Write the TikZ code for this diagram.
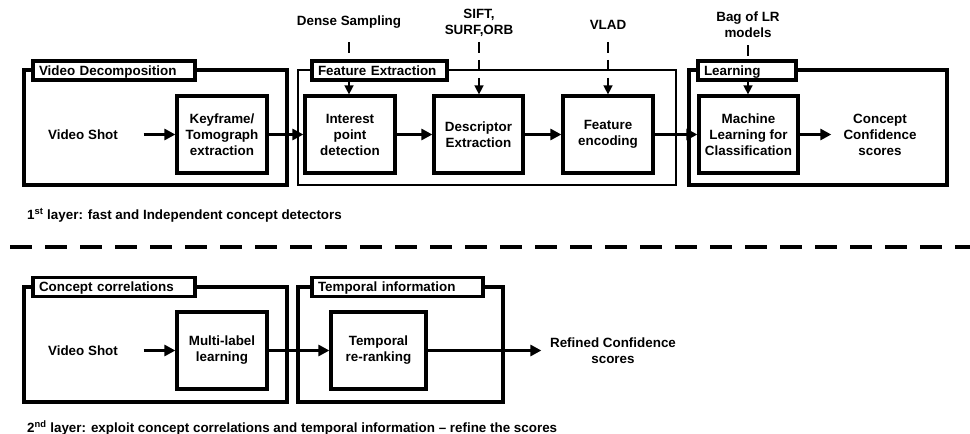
\documentclass[tikz,border=0pt]{standalone}
\usepackage{fontspec}
\setmainfont{Liberation Sans}
\usetikzlibrary{arrows.meta}
\pgfdeclarelayer{back}
\pgfsetlayers{back,main}
\begin{document}
\begin{tikzpicture}[x=1pt,y=-1pt,
  font=\fontsize{13.4}{16}\selectfont\bfseries,
  frame/.style={draw, line width=3.2pt, inner sep=0pt},
  thinframe/.style={draw, line width=1.2pt, inner sep=0pt},
  ttl/.style={draw, line width=3.2pt, fill=white, inner xsep=6pt, inner ysep=0pt,
              minimum height=19pt, align=left, text height=9.7pt, text depth=0pt},
  blk/.style={draw, line width=3.2pt, fill=white, align=center,
              minimum height=77pt, inner sep=2pt},
  lbl/.style={align=center, inner sep=0pt},
  flow/.style={line width=3.3pt, -{Triangle[length=11pt,width=11pt]}},
  hint/.style={line width=1.4pt, dash pattern=on 11pt off 7pt,
               -{Triangle[length=9pt,width=9pt]}},
  divider/.style={line width=4pt, dash pattern=on 22pt off 13pt}]
\useasboundingbox (0,0) rectangle (970,434);

% ---------- first layer ----------
\node[frame, minimum width=263pt, minimum height=115pt] (vd) at (155.5,127.5) {};
\node[thinframe, minimum width=378pt, minimum height=115pt] (fe) at (487,127.5) {};
\node[frame, minimum width=258pt, minimum height=115pt] (ln) at (818,127.5) {};

\node[ttl, text width=150pt] (vdt) at (114,70.5) {Video Decomposition};
\node[ttl, text width=123pt] (fet) at (379.5,70.5) {Feature Extraction};
\node[ttl, text width=86pt] (lnt) at (747,70.5) {Learning};

\node[lbl] (vs1) at (83,134.5) {Video Shot};
\node[blk, minimum width=90pt] (kf) at (222,134.5) {Keyframe/\\Tomograph\\extraction};
\node[blk, minimum width=90pt] (ipd) at (350,134.5) {Interest\\point\\detection};
\node[blk, minimum width=89pt] (de) at (478.5,134.5) {Descriptor\\Extraction};
\node[blk, minimum width=90pt] (enc) at (608,134.5) {Feature\\encoding};
\node[blk, minimum width=99pt] (ml) at (748.5,134.5) {Machine\\Learning for\\Classification};
\node[lbl] (ccs) at (880,134.5) {Concept\\Confidence\\scores};

% method annotations above the pipeline
\node[lbl] (ds) at (349,22.3) {Dense Sampling};
\node[lbl] (sift) at (479,22.4) {SIFT,\\SURF,ORB};
\node[lbl] (vlad) at (608,25) {VLAD};
\node[lbl] (bag) at (748,25) {Bag of LR\\models};

\begin{pgfonlayer}{back}
  \draw[hint, shorten <=13.5pt] (ds.south) -- (ds.south |- ipd.north);
  \draw[hint, shorten <=5.5pt] (sift.south) -- (sift.south |- de.north);
  \draw[hint, shorten <=12pt] (vlad.south) -- (vlad.south |- enc.north);
  \draw[hint, shorten <=7pt] (bag.south) -- (bag.south |- ml.north);
\end{pgfonlayer}

\draw[flow, shorten <=25.5pt] (vs1) -- (kf);
\draw[flow] (kf) -- (ipd);
\draw[flow] (ipd) -- (de);
\draw[flow] (de) -- (enc);
\draw[flow] (enc) -- (ml);
\draw[flow, shorten >=12pt] (ml) -- (ccs);

\node[anchor=west, inner sep=0pt] (l1) at (27,215)
  {1\textsuperscript{st} layer: fast and Independent concept detectors};

% ---------- separator ----------
\coordinate (d0) at (10,247);
\coordinate (d1) at (970,247);
\draw[divider] (d0) -- (d1);

% ---------- second layer ----------
\node[frame, minimum width=263pt, minimum height=115pt] (cc) at (155.5,344.5) {};
\node[frame, minimum width=205pt, minimum height=115pt] (ti) at (400.5,344.5) {};
\node[ttl, text width=150pt] (cct) at (114,287) {Concept correlations};
\node[ttl, text width=159pt] (tit) at (397.5,287) {Temporal information};

\node[lbl] (vs2) at (83,350.5) {Video Shot};
\node[blk, minimum width=90pt] (mll) at (222,350.5) {Multi-label\\learning};
\node[blk, minimum width=95pt] (trr) at (378.5,350.5) {Temporal\\re-ranking};
\node[lbl] (rcs) at (613,350.5) {Refined Confidence\\scores};

\draw[flow, shorten <=25.5pt] (vs2) -- (mll);
\draw[flow] (mll) -- (trr);
\draw[flow, shorten >=8.5pt] (trr) -- (rcs);

\node[anchor=west, inner sep=0pt] (l2) at (27,428)
  {2\textsuperscript{nd} layer: exploit concept correlations and temporal information – refine the scores};
\end{tikzpicture}
\end{document}
